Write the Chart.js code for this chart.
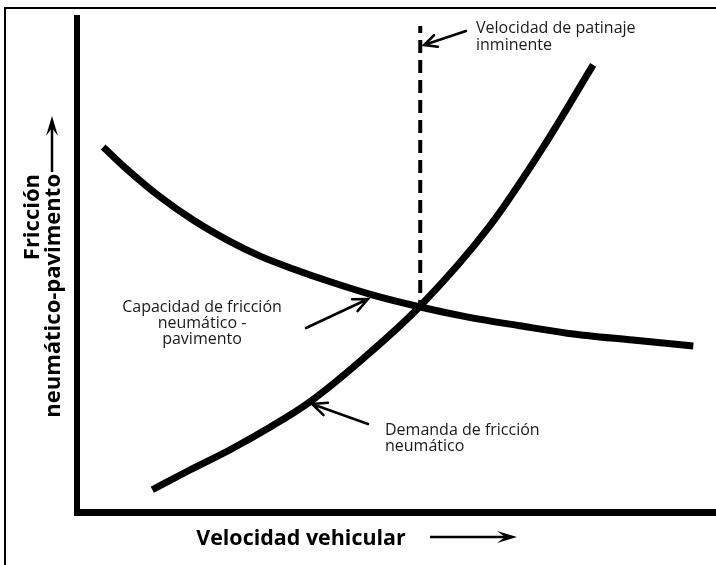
<!DOCTYPE html>
<html><head><meta charset="utf-8">
<script src="https://cdn.jsdelivr.net/npm/chart.js@4"></script>
<style>html,body{margin:0;padding:0;background:#fff}#wrap{position:relative;width:716px;height:565px}</style>
</head><body><div id="wrap"><canvas id="c" width="716" height="565"></canvas></div>
<script>
// Conceptual chart: no numeric ticks; values in arbitrary units (0-100)
const capacityX = [4.1, 7.8, 13.0, 18.2, 23.5, 28.7, 33.9, 39.7, 46.4, 53.8, 61.1, 69.4, 76.8, 87.1, 96.6];
const capacityY = [73.9, 69.4, 63.8, 59.1, 55.1, 51.8, 49.2, 46.6, 43.9, 41.5, 39.5, 37.7, 36.2, 34.8, 33.6];
const demandX = [11.8, 17.7, 24.0, 30.3, 36.5, 44.8, 53.8, 64.7, 73.0, 80.9];
const demandY = [4.5, 8.5, 12.6, 17.2, 22.3, 31.0, 41.7, 57.9, 73.7, 90.5];
const skidX = [53.8, 53.8];
const skidY = [98.4, 41.6];
const labels = {
  xTitle: 'Velocidad vehicular',
  yTitle: ['Fricción', 'neumático-pavimento'],
  skid: ['Velocidad de patinaje', 'inminente'],
  capacity: ['Capacidad de fricción', 'neumático -', 'pavimento'],
  demand: ['Demanda de fricción', 'neumático']
};

const toPts = (xs, ys) => xs.map((x, i) => ({x, y: ys[i]}));

function arrowOpen(ctx, x1, y1, x2, y2, len, ang, lw) {
  const a = Math.atan2(y2 - y1, x2 - x1);
  ctx.save();
  ctx.strokeStyle = '#000'; ctx.lineWidth = lw; ctx.lineCap = 'round';
  ctx.beginPath(); ctx.moveTo(x1, y1); ctx.lineTo(x2, y2);
  ctx.moveTo(x2 - len * Math.cos(a - ang), y2 - len * Math.sin(a - ang));
  ctx.lineTo(x2, y2);
  ctx.lineTo(x2 - len * Math.cos(a + ang), y2 - len * Math.sin(a + ang));
  ctx.stroke();
  ctx.restore();
}
function arrowFilled(ctx, x1, y1, x2, y2, len, hw, lw) {
  const a = Math.atan2(y2 - y1, x2 - x1);
  const c = Math.cos(a), s = Math.sin(a);
  ctx.save();
  ctx.strokeStyle = '#000'; ctx.fillStyle = '#000'; ctx.lineWidth = lw;
  ctx.beginPath(); ctx.moveTo(x1, y1); ctx.lineTo(x2 - len * 0.5 * c, y2 - len * 0.5 * s); ctx.stroke();
  ctx.beginPath();
  ctx.moveTo(x2, y2);
  ctx.lineTo(x2 - len * c - hw * s, y2 - len * s + hw * c);
  ctx.lineTo(x2 - len * 0.6 * c, y2 - len * 0.6 * s);
  ctx.lineTo(x2 - len * c + hw * s, y2 - len * s - hw * c);
  ctx.closePath(); ctx.fill();
  ctx.restore();
}
function textLines(ctx, lines, x, y, lh, align) {
  ctx.textAlign = align;
  lines.forEach((t, i) => ctx.fillText(t, x, y + i * lh));
}

const decor = {
  id: 'decor',
  afterDraw(chart) {
    const ctx = chart.ctx;
    ctx.save();
    // frame
    ctx.strokeStyle = '#000'; ctx.lineWidth = 2;
    ctx.beginPath(); ctx.moveTo(5, 565); ctx.lineTo(5, 8); ctx.lineTo(716, 8); ctx.stroke();

    ctx.fillStyle = '#1a1a1a';
    ctx.textBaseline = 'alphabetic';
    ctx.font = '16px "Open Sans"';
    textLines(ctx, labels.skid, 476, 33, 17, 'left');
    textLines(ctx, labels.capacity, 202, 312, 16, 'center');
    textLines(ctx, labels.demand, 385, 435, 16, 'left');

    arrowOpen(ctx, 466, 31, 424, 45, 14, 0.45, 2.5);
    arrowOpen(ctx, 306, 328, 368, 299, 16, 0.42, 2.5);
    arrowOpen(ctx, 368, 424, 312, 404, 16, 0.42, 2.5);

    // axis titles
    ctx.fillStyle = '#000';
    ctx.font = 'bold 22px "Open Sans"';
    ctx.save();
    ctx.translate(301, 545);
    ctx.scale(0.975, 1);
    ctx.textAlign = 'center';
    ctx.fillText(labels.xTitle, 0, 0);
    ctx.restore();
    arrowFilled(ctx, 430, 537, 517, 537, 20, 6, 2.5);

    ctx.save();
    ctx.translate(39, 174);
    ctx.rotate(-Math.PI / 2);
    ctx.textAlign = 'right';
    ctx.fillText(labels.yTitle[0], 0, 0);
    ctx.fillText(labels.yTitle[1], 0, 21);
    ctx.restore();
    arrowFilled(ctx, 52, 172, 52, 116, 20, 6, 2.5);
    ctx.restore();
  }
};

new Chart(document.getElementById('c'), {
  type: 'scatter',
  data: {
    datasets: [
      { label: 'Capacidad', data: toPts(capacityX, capacityY), showLine: true, borderColor: '#000', borderWidth: 7, pointRadius: 0, cubicInterpolationMode: 'monotone', borderCapStyle: 'butt' },
      { label: 'Demanda', data: toPts(demandX, demandY), showLine: true, borderColor: '#000', borderWidth: 7, pointRadius: 0, cubicInterpolationMode: 'monotone', borderCapStyle: 'butt' },
      { label: 'Patinaje', data: toPts(skidX, skidY), showLine: true, borderColor: '#000', borderWidth: 4, pointRadius: 0, borderDash: [13, 7], borderDashOffset: 6 }
    ]
  },
  options: {
    responsive: false,
    devicePixelRatio: 1,
    animation: false,
    layout: { padding: { left: 77, right: 1, top: 18, bottom: 53 } },
    plugins: { legend: { display: false }, tooltip: { enabled: false } },
    scales: {
      x: { type: 'linear', min: 0, max: 100, ticks: { display: false }, grid: { display: false, drawTicks: false },
           border: { display: true, color: '#000', width: 7 }, afterFit: s => { s.height = 0; } },
      y: { type: 'linear', min: 0, max: 100, ticks: { display: false }, grid: { display: false, drawTicks: false },
           border: { display: true, color: '#000', width: 6 }, afterFit: s => { s.width = 0; } }
    }
  },
  plugins: [decor]
});
</script>
</body></html>
